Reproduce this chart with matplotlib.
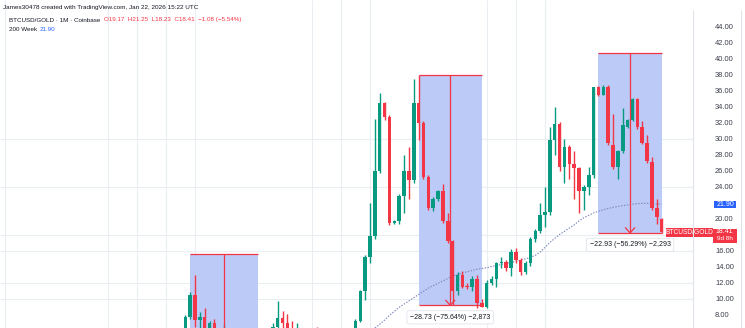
import matplotlib
matplotlib.use('Agg')
import matplotlib.pyplot as plt
from matplotlib.patches import Rectangle
import numpy as np
import pandas as pd

# ---------------- data ----------------
months = [str(p) for p in pd.period_range('2017-11', '2026-01', freq='M')]

opens = [5.07, 7.75, 10.6, 7.4, 7.8, 5.2, 7.0, 5.8, 5.1, 6.3, 5.85, 5.55, 5.25, 3.3, 2.9, 2.6, 2.95, 3.15,
         4.15, 6.55, 7.65, 7.1, 6.3, 5.6, 6.05, 5.15, 4.75, 5.9, 5.4, 4.1, 5.1, 5.45, 5.15, 5.75, 5.9, 5.7,
         7.3, 11.1, 15.25, 17.9, 26.1, 34.5, 32.75, 19.5, 19.75, 22.9, 26.0, 24.9, 34.5, 32.1, 25.3, 21.4,
         22.6, 23.5, 19.75, 17.25, 11.0, 13.1, 11.65, 11.55, 12.5, 9.6, 9.05, 12.0, 12.6, 14.5, 14.7, 13.9,
         15.9, 14.9, 13.4, 14.5, 17.5, 18.5, 20.5, 20.9, 29.9, 31.9, 26.5, 29.0, 26.9, 26.4, 23.6, 24.0,
         25.6, 36.5, 35.6, 36.6, 29.3, 26.5, 28.6, 31.6, 32.4, 35.1, 31.5, 29.6, 27.2, 21.4, 20.1]
highs = [8.1, 10.9, 13.0, 8.4, 8.9, 7.3, 7.6, 6.1, 6.9, 6.4, 6.2, 6.3, 5.4, 3.5, 3.1, 3.2, 3.2, 4.4,
         7.0, 9.75, 8.6, 8.2, 7.3, 7.0, 6.3, 5.2, 6.1, 6.6, 5.8, 5.6, 5.8, 5.9, 5.9, 6.4, 6.3, 7.5,
         11.2, 15.5, 22.0, 32.5, 35.75, 34.7, 33.0, 19.9, 23.2, 28.0, 29.0, 37.5, 37.98, 32.3, 25.5, 22.8,
         23.7, 24.4, 20.75, 17.4, 13.4, 13.5, 12.0, 12.9, 13.0, 10.0, 12.4, 12.9, 14.7, 15.3, 14.9, 16.25,
         16.4, 15.2, 14.8, 17.8, 18.8, 22.0, 24.0, 31.5, 34.0, 32.2, 30.0, 29.3, 28.5, 26.6, 24.3, 26.6,
         36.6, 36.7, 36.8, 36.8, 33.2, 28.7, 33.9, 32.5, 35.2, 35.2, 32.3, 30.5, 27.8, 22.5, 20.2]
lows = [4.4, 7.5, 6.6, 4.5, 5.0, 4.9, 5.4, 4.6, 4.9, 4.9, 5.1, 5.1, 3.0, 2.5, 2.6, 2.55, 2.85, 3.1,
        4.1, 5.7, 6.4, 6.1, 5.2, 4.9, 4.4, 4.3, 4.5, 5.3, 2.5, 3.8, 4.7, 5.0, 4.7, 5.5, 5.1, 5.5,
        7.2, 9.9, 14.5, 17.5, 25.8, 32.4, 19.3, 19.4, 19.4, 20.75, 22.6, 24.6, 29.9, 25.0, 21.2, 21.0,
        22.3, 19.5, 17.0, 9.25, 10.6, 11.4, 11.3, 11.1, 8.95, 9.0, 8.95, 11.8, 11.5, 13.9, 13.5, 12.9,
        14.6, 13.0, 13.2, 14.2, 17.2, 18.3, 19.0, 20.6, 28.0, 26.0, 24.5, 25.0, 22.5, 20.75, 21.2, 23.0,
        25.2, 35.4, 35.5, 29.3, 26.3, 25.0, 28.3, 31.4, 32.3, 31.3, 29.4, 27.0, 21.2, 19.4, 18.3]
closes = [7.75, 10.6, 7.4, 7.8, 5.2, 7.0, 5.8, 5.1, 6.3, 5.85, 5.55, 5.25, 3.3, 2.9, 2.6, 2.95, 3.15, 4.15,
          6.55, 7.65, 7.1, 6.3, 5.6, 6.05, 5.15, 4.75, 5.9, 5.4, 4.1, 5.1, 5.45, 5.15, 5.75, 5.9, 5.7, 7.3,
          11.1, 15.25, 17.9, 26.1, 34.5, 32.75, 19.5, 19.75, 22.9, 26.0, 24.9, 34.5, 32.1, 25.3, 21.4, 22.6,
          23.5, 19.75, 17.25, 11.0, 13.1, 11.6, 11.55, 12.5, 9.6, 9.05, 12.0, 12.6, 14.5, 14.7, 13.9, 15.9,
          14.9, 13.4, 14.5, 17.5, 18.5, 20.5, 20.9, 29.9, 31.9, 26.5, 29.0, 26.9, 26.4, 23.6, 24.0, 25.6,
          36.5, 35.6, 36.6, 29.5, 26.5, 28.6, 31.8, 32.4, 35.1, 31.5, 29.6, 27.3, 21.4, 20.3, 18.41]

ma_start = '2021-02'
ma_200w = [6.4, 6.9, 7.4, 8.0, 8.5, 9.0, 9.4, 9.8, 10.2, 10.6, 11.0, 11.4, 11.7, 12.0, 12.3, 12.6,
           12.9, 13.1, 13.3, 13.45, 13.6, 13.75, 13.85, 13.95, 14.1, 14.2, 14.35, 14.5, 14.6, 14.75,
           14.9, 15.05, 15.25, 15.5, 15.9, 16.5, 17.1, 17.6, 18.1, 18.5, 18.9, 19.3, 19.8, 20.2, 20.5,
           20.8, 21.0, 21.2, 21.35, 21.5, 21.6, 21.7, 21.8, 21.9, 21.95, 22.0, 22.0, 21.95, 21.9, 21.9]

price_ticks = [44, 42, 40, 38, 36, 34, 32, 30, 28, 26, 24, 20, 16, 14, 12, 10, 8]
grid_prices = [30, 24, 18, 16, 12, 10]
grid_months = ['2014-10', '2016-07', '2017-01', '2017-07', '2018-01', '2020-01', '2020-07',
               '2021-01', '2023-01', '2023-07', '2024-01']

# measure boxes: (start month, end month, top price, bottom price, label)
box_a = ('2017-12', '2019-02', 15.7, 2.5, '')
box_b = ('2021-11', '2022-12', 37.98, 9.25, '\u221228.73 (\u221275.64%) \u22122,873')
box_c = ('2024-12', '2026-01', 40.8, 18.3, '\u221222.93 (\u221256.29%) \u22122,293')

last_close = 18.41
ma_last = 21.90

# ---------------- style ----------------
GREEN = '#089981'
RED = '#F23645'
BLUE = '#2962FF'
GRID = '#eaedf2'
BOXFILL = '#bccaf8'
TXT = '#131722'
plt.rcParams['font.family'] = ['Liberation Sans', 'DejaVu Sans']

W, H = 745, 328
fig = plt.figure(figsize=(W / 100, H / 100), dpi=100)
fig.patch.set_facecolor('white')

PANE_R = 693
ax = fig.add_axes([0, 0, PANE_R / W, 1])
ax.set_facecolor('white')
for s in ax.spines.values():
    s.set_visible(False)
ax.set_xticks([])
ax.set_yticks([])

step = 4.861
x0px = 185.3
ax.set_xlim(-x0px / step, (PANE_R - x0px) / step)
ax.set_ylim(44 - (H - 27.3) / 8.0, 44 + 27.3 / 8.0)

def midx(m):
    return (pd.Period(m, freq='M') - pd.Period(months[0], freq='M')).n

# grid
ax.hlines(grid_prices, *ax.get_xlim(), colors=GRID, lw=0.8, zorder=0)
ax.vlines([midx(m) for m in grid_months], *ax.get_ylim(), colors=GRID, lw=0.8, zorder=0)

def draw_box(box, show_arrow=True):
    m1, m2, top, bot, label = box
    x1, x2 = midx(m1), midx(m2)
    ax.add_patch(Rectangle((x1, bot), x2 - x1, top - bot, fc=BOXFILL, ec='none', zorder=1))
    ax.hlines([top, bot], x1, x2, colors=RED, lw=0.9, zorder=5)
    cx = (x1 + x2) / 2
    ax.vlines(cx, bot, top, colors=RED, lw=0.9, zorder=5)
    if show_arrow:
        dx, dy = 4.5 / step, 5 / 8.0
        ax.plot([cx - dx, cx, cx + dx], [bot + dy, bot, bot + dy], color=RED, lw=0.9, zorder=5)
    if label:
        ax.annotate(label, xy=(cx, bot), xytext=(0, -12), textcoords='offset pixels',
                    ha='center', va='center', fontsize=5.0, color=TXT, zorder=6,
                    bbox=dict(boxstyle='round,pad=0.45,rounding_size=0.3', fc='white',
                              ec='#e0e3eb', lw=0.6))

draw_box(box_a, show_arrow=False)
draw_box(box_b)
draw_box(box_c)

ma_x = np.arange(midx(ma_start), midx(ma_start) + len(ma_200w))
ax.plot(ma_x, ma_200w, color='#7d88bf', lw=0.8, ls=(0, (1.3, 1.3)), zorder=2)

idx = np.arange(len(months))
o, h, l, c = map(np.array, (opens, highs, lows, closes))
cols = np.where(c >= o, GREEN, RED)
ax.vlines(idx, l, h, colors=cols, lw=1.0, zorder=3)
ax.bar(idx, np.maximum(np.abs(c - o), 0.12), bottom=np.minimum(o, c), width=0.72,
       color=cols, lw=0, zorder=4)

# ---------------- right price scale ----------------
axr = fig.add_axes([660 / W, 0, (W - 660) / W, 1])
axr.patch.set_alpha(0)
axr.axis('off')
axr.set_xlim(660, W)
axr.set_ylim(ax.get_ylim())
ylo, yhi = ax.get_ylim()
axr.vlines([PANE_R, 741], ylo, yhi - 10 / 8.0, colors='#e0e3eb', lw=0.8)
for t in price_ticks:
    axr.text(715, t, f'{t:.2f}', fontsize=5.4, color='#3a3e4a', ha='left', va='center')

axr.add_patch(Rectangle((714, ma_last - 3.6 / 8), 22, 7.2 / 8, fc=BLUE, ec='none'))
axr.text(725, ma_last, f'{ma_last:.2f}', fontsize=5.0, color='white', ha='center', va='center')
axr.add_patch(Rectangle((713, last_close - 10.5 / 8), 23.5, 14 / 8, fc=RED, ec='none'))
axr.text(724.5, last_close + 0.05, f'{last_close:.2f}', fontsize=5.0, color='white', ha='center', va='center')
axr.text(724.5, last_close - 0.85, '9d 8h', fontsize=4.6, color='white', ha='center', va='center')
axr.add_patch(Rectangle((666, last_close - 4.6 / 8), 46.5, 8.6 / 8, fc=RED, ec='none'))
axr.text(689, last_close, 'BTCUSD/GOLD', fontsize=4.8, color='white', ha='center', va='center')

# ---------------- header texts ----------------
def fy(ypx):
    return 1 - ypx / H

fig.text(3 / W, fy(7), 'James30478 created with TradingView.com, Jan 22, 2026 15:22 UTC',
         fontsize=4.6, color=TXT, ha='left', va='center')
fig.text(9 / W, fy(20), 'BTCUSD/GOLD \u00b7 1M \u00b7 Coinbase', fontsize=4.5, color=TXT,
         ha='left', va='center')
fig.text(104 / W, fy(20), 'O19.17  H21.25  L18.23  C18.41  \u22121.08 (\u22125.54%)',
         fontsize=4.5, color=RED, ha='left', va='center')
fig.text(9 / W, fy(29.5), '200 Week', fontsize=4.5, color=TXT, ha='left', va='center')
fig.text(40 / W, fy(29.5), f'{ma_last:.2f}', fontsize=4.5, color=BLUE, ha='left', va='center')

fig.savefig('out.png', dpi=100, facecolor='white')
